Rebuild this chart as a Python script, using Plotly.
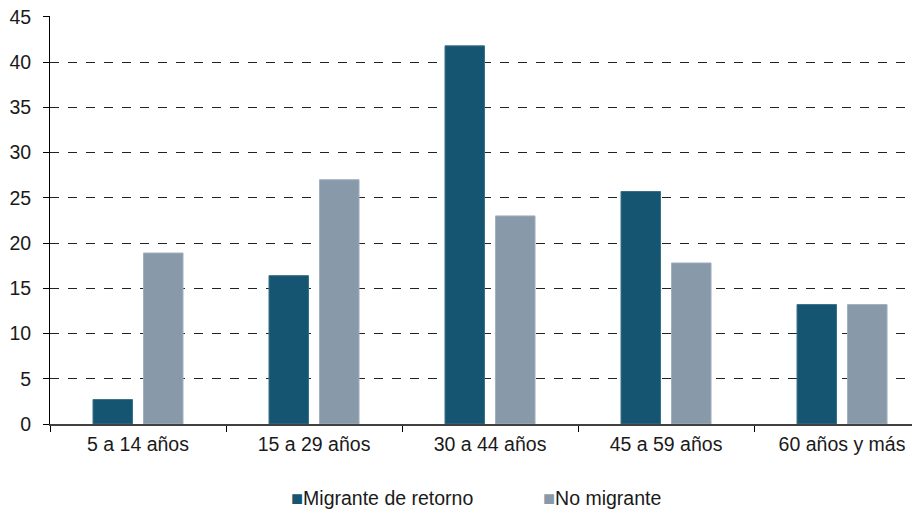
import plotly.graph_objects as go

categories = ["5 a 14 años", "15 a 29 años", "30 a 44 años", "45 a 59 años", "60 años y más"]
migrante_retorno = [2.7, 16.4, 41.8, 25.7, 13.2]
no_migrante = [18.9, 27.0, 23.0, 17.8, 13.2]
y_ticks = [0, 5, 10, 15, 20, 25, 30, 35, 40, 45]
series_names = ["Migrante de retorno", "No migrante"]
colors = ["#165571", "#8899AA"]

fig = go.Figure()
fig.add_trace(go.Bar(x=categories, y=migrante_retorno, name=series_names[0],
                     marker=dict(color=colors[0], line=dict(color="#3a7088", width=1))))
fig.add_trace(go.Bar(x=categories, y=no_migrante, name=series_names[1],
                     marker=dict(color=colors[1], line=dict(color="#a0afbd", width=1))))

# page body has an 8px margin, so the figure is sized to end at the window edge
fig.update_layout(
    width=912, height=502,
    margin=dict(l=42, r=0, t=8, b=86),
    plot_bgcolor="white", paper_bgcolor="white",
    font=dict(family="Liberation Sans, Arial", size=19.5, color="#1a1a1a"),
    barmode="group", bargap=0.426, bargroupgap=0.218,
    showlegend=False,
)
legend_x = [289, 541]
plot_h = 408
for name, col, xpx in zip(series_names, colors, legend_x):
    fig.add_annotation(
        xref="paper", yref="paper", x=(xpx - 50) / 870, y=-(498 - 424) / plot_h,
        xanchor="left", yanchor="middle", showarrow=False,
        text=f"<span style='color:{col};font-size:20px'>■</span>{name}",
        font=dict(size=19.5, color="#1a1a1a"),
    )
fig.update_yaxes(range=[0, 45.1], tickvals=y_ticks, showgrid=True, gridcolor="#222222",
                 griddash="dash", gridwidth=1, showline=True, linecolor="black", linewidth=1,
                 ticks="outside", ticklen=6, tickcolor="black", zeroline=False,
                 automargin=False, ticklabelstandoff=8, ticklabeloverflow="allow")
fig.update_xaxes(range=[-0.5, 4.443], showline=True, linecolor="#404040", linewidth=2,
                 ticks="outside", tickson="boundaries", ticklen=6, tickcolor="black",
                 automargin=False, ticklabelstandoff=2)

fig.write_html("out.html")
